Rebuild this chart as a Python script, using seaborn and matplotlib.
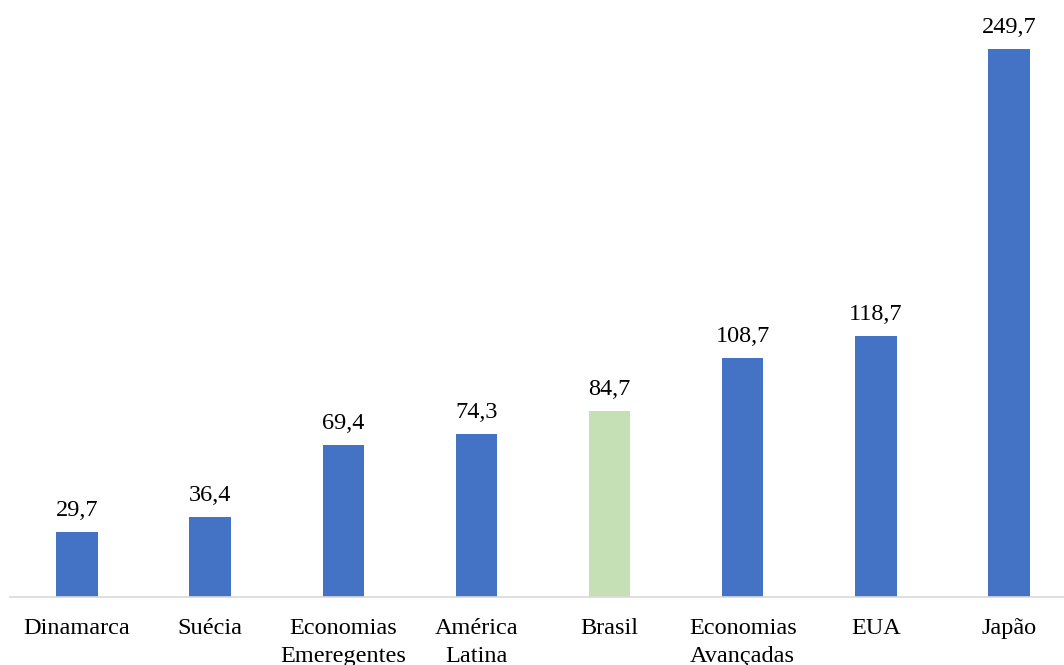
import matplotlib
matplotlib.use("Agg")
import matplotlib.pyplot as plt
import seaborn as sns
import pandas as pd

# Dados
categorias = ["Dinamarca", "Suécia", "Economias\nEmeregentes", "América\nLatina",
              "Brasil", "Economias\nAvançadas", "EUA", "Japão"]
valores = [29.7, 36.4, 69.4, 74.3, 84.7, 108.7, 118.7, 249.7]
cores = ["#4472C4", "#4472C4", "#4472C4", "#4472C4",
         "#C5E0B4", "#4472C4", "#4472C4", "#4472C4"]

df = pd.DataFrame({"cat": categorias, "valor": valores})

sns.set_style("white")
plt.rcParams["font.family"] = ["Liberation Serif", "DejaVu Serif"]

fig = plt.figure(figsize=(10.64, 6.65), dpi=100)
ax = fig.add_axes([10.4 / 1064, 68 / 665, 1065.2 / 1064, 597 / 665])

sns.barplot(data=df, x="cat", y="valor", hue="cat", palette=cores,
            legend=False, width=0.31, linewidth=0, saturation=1, ax=ax)

ax.set_ylim(0, 597 / 2.195)
ax.set_xlim(-0.5, len(categorias) - 0.5)

# rótulos de valor
for i, v in enumerate(valores):
    ax.annotate(f"{v:.1f}".replace(".", ","), (i, v), xytext=(0, 11.5),
                textcoords="offset points", ha="center", va="baseline",
                fontsize=17.5, color="#000000")

ax.set_xlabel("")
ax.set_ylabel("")
ax.set_yticks([])
ax.tick_params(axis="x", length=0, pad=15, labelsize=17.5, labelcolor="#000000")
for lab in ax.get_xticklabels():
    lab.set_linespacing(1.45)

for s in ["top", "left", "right"]:
    ax.spines[s].set_visible(False)
ax.spines["bottom"].set_color("#d9d9d9")
ax.spines["bottom"].set_linewidth(1.2)

fig.savefig("out.png", dpi=100)
